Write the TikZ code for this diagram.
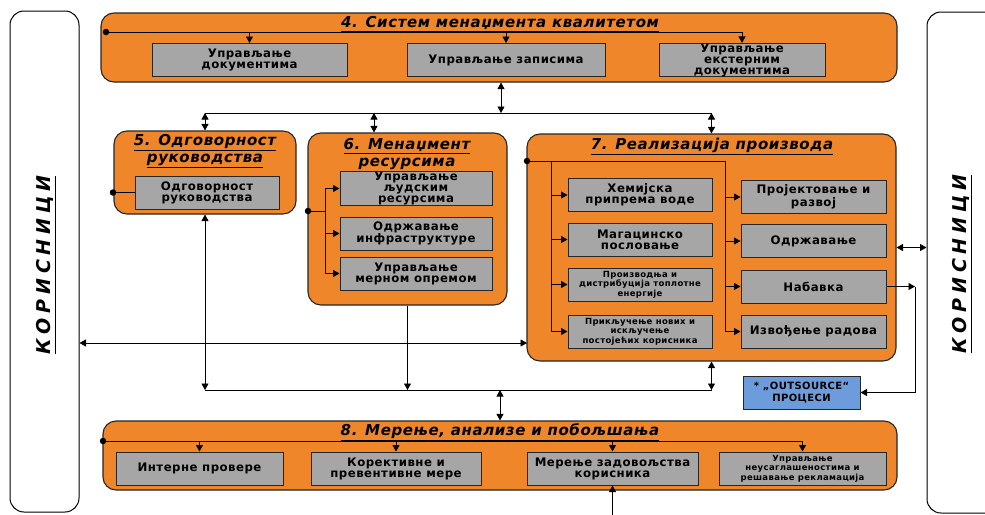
\documentclass[tikz,border=0pt]{standalone}
\usepackage{fontspec}
\setmainfont{DejaVu Sans}[LetterSpace=4]
\newfontfamily\korfont{DejaVu Sans}[LetterSpace=25]
\usepackage{tikz}
\usetikzlibrary{arrows.meta}
\usetikzlibrary{positioning}
\definecolor{narandza}{RGB}{240,134,42}
\definecolor{siva}{RGB}{166,166,166}
\definecolor{plava}{RGB}{108,156,220}

\begin{document}
\begin{tikzpicture}[x=1pt,y=-1pt,>={Triangle[length=6.5pt,width=7pt]},
okvir/.style={draw=black!85,fill=narandza,rounded corners=13pt,line width=1.1pt},
korisnik/.style={draw,rounded corners=14pt,line width=1pt},
siv/.style={draw=black!85,fill=siva,line width=1pt,align=center,inner sep=0pt,
minimum height=33pt,font=\bfseries\fontsize{11.75}{11}\selectfont},
sitno/.style={font=\bfseries\fontsize{8.5}{9.5}\selectfont},
naslov/.style={font=\bfseries\itshape\fontsize{15}{16.5}\selectfont,align=center},
kor/.style={rotate=90,font=\korfont\bfseries\itshape\fontsize{19}{21}\selectfont},
tacka/.style={circle,fill=black,inner sep=0pt,minimum size=6.5pt},
veza/.style={line width=0.9pt}]
\clip (0,0) rectangle (985,514);
\fill[white] (0,0) rectangle (985,514);

% korisnici
\node[korisnik,minimum width=69,minimum height=501] (kl) at (44.5,261.5) {};
\node[kor] at (46,265) {\underline{КОРИСНИЦИ}};
\node[korisnik,minimum width=76,minimum height=501] (kd) at (965,262.5) {};
\node[kor] at (962,264) {\underline{КОРИСНИЦИ}};

% 4
\node[okvir,minimum width=796,minimum height=69] (k4) at (499,47.5) {};
\node[naslov] at (500,24) {\underline{4. Систем менаџмента квалитетом}};
\node[siv,minimum width=195] (d1) at (249.5,60) {Управљање\\документима};
\node[siv,minimum width=198] (d2) at (506,60) {Управљање записима};
\node[siv,minimum width=166] (d3) at (742,60) {Управљање\\екстерним\\документима};
\node[tacka] (t4) at (106,32) {};
\draw[veza] (t4.center) -- (t4.center -| d3.north);
\foreach \d in {d1,d2,d3}
  \draw[veza,->] (t4.center -| \d.north) -- (\d.north);

% 5
\node[okvir,minimum width=182,minimum height=83] (k5) at (205,172.5) {};
\node[naslov] at (205,151) {\underline{5. Одговорност}\\\underline{руководства}};
\node[siv,minimum width=144] (o1) at (207,192.5) {Одговорност\\руководства};
\node[tacka] (t5) at (113,192.5) {};
\draw[veza] (t5.center) -- (o1.west);

% 6
\node[okvir,minimum width=199,minimum height=172] (k6) at (407.5,219) {};
\node[naslov] at (407,155) {\underline{6. Менаџмент}\\\underline{ресурсима}};
\node[siv,minimum width=152] (r1) at (416,188.5) {Управљање\\људским\\ресурсима};
\node[siv,minimum width=152] (r2) at (416,233.5) {Одржавање\\инфраструктуре};
\node[siv,minimum width=152] (r3) at (416,273.5) {Управљање\\мерном опремом};
\node[tacka] (t6) at (308,211) {};
\draw[veza] (t6.center) -- ++(17,0) coordinate (g6);
\draw[veza] (g6 |- r1.west) -- (g6 |- r3.west);
\foreach \r in {r1,r2,r3}
  \draw[veza,->] (g6 |- \r.west) -- (\r.west);

% 7
\node[okvir,minimum width=369,minimum height=227] (k7) at (711.5,247.5) {};
\node[naslov] at (712,146) {\underline{7. Реализација производа}};
\node[siv,minimum width=144] (p1) at (640,195) {Хемијска\\припрема воде};
\node[siv,minimum width=144] (p2) at (640,239.5) {Магацинско\\пословање};
\node[siv,sitno,minimum width=144] (p3) at (640,284.5) {Производња и\\дистрибуција топлотне\\енергије};
\node[siv,sitno,minimum width=144] (p4) at (640,331.5) {Прикључење нових и\\искључење\\постојећих корисника};
\node[siv,minimum width=145] (q1) at (813.5,197) {Пројектовање и\\развој};
\node[siv,minimum width=145] (q2) at (813.5,241) {Одржавање};
\node[siv,minimum width=145] (q3) at (813.5,286.5) {Набавка};
\node[siv,minimum width=145] (q4) at (813.5,331.5) {Извођење радова};
\node[tacka] (t7) at (527,161) {};
\coordinate (g7a) at (551,161);
\coordinate (g7b) at (725,161);
\draw[veza] (t7.center) -- (g7b);
\draw[veza] (g7a) -- (g7a |- p4.west);
\draw[veza] (g7b) -- (g7b |- q4.west);
\foreach \p in {p1,p2,p3,p4}
  \draw[veza,->] (g7a |- \p.west) -- (\p.west);
\foreach \q in {q1,q2,q3,q4}
  \draw[veza,->] (g7b |- \q.west) -- (\q.west);

% outsource
\node[siv,fill=plava,minimum width=117,font=\bfseries\fontsize{10}{11.5}\selectfont] (os) at (801.5,392.5) {* „OUTSOURCE“\\ПРОЦЕСИ};
\coordinate (n1) at (915,287);
\draw[veza,->] (q3.east) -- (q3.east -| n1);
\draw[veza,->] (q3.east -| n1) |- (os.east);

% 8
\node[okvir,minimum width=794,minimum height=69] (k8) at (500,455.5) {};
\node[naslov] at (500,432) {\underline{8. Мерење, анализе и побољшања}};
\node[siv,minimum width=167] (m1) at (199.5,468.5) {Интерне провере};
\node[siv,minimum width=170] (m2) at (396,468.5) {Корективне и\\превентивне мере};
\node[siv,minimum width=171] (m3) at (612.5,468.5) {Мерење задовољства\\корисника};
\node[siv,sitno,minimum width=167] (m4) at (802.5,468.5) {Управљање\\неусаглашеностима и\\решавање рекламација};
\node[tacka] (t8) at (103,441) {};
\draw[veza] (t8.center) -- (t8.center -| m4.north);
\foreach \m in {m1,m2,m3,m4}
  \draw[veza,->] (t8.center -| \m.north) -- (\m.north);
\coordinate (u1) at (612.5,520);
\draw[veza,->] (u1) -- (m3.south);

% veze
\coordinate (b1) at (501,113);
\coordinate (b6) at (374,113);
\draw[veza,<->] (b1 |- k4.south) -- (b1);
\draw[veza] (b1 -| k5.north) -- (b1 -| k7.north);
\draw[veza,<->] (b1 -| k5.north) -- (k5.north);
\draw[veza,<->] (b6) -- (b6 |- k6.north);
\draw[veza,<->] (b1 -| k7.north) -- (k7.north);
\coordinate (l1) at (527,343);
\draw[veza,<->] (kl.east |- l1) -- (l1);
\draw[veza,<->] (k7.east) -- (k7.east -| kd.west);
\coordinate (b2) at (500,390);
\draw[veza] (b2 -| k5.south) -- (b2 -| k7.south);
\draw[veza,<->] (k5.south) -- (k5.south |- b2);
\draw[veza,->] (k6.south) -- (k6.south |- b2);
\draw[veza,<->] (k7.south) -- (k7.south |- b2);
\draw[veza,<->] (b2) -- (b2 |- k8.north);
\end{tikzpicture}
\end{document}
